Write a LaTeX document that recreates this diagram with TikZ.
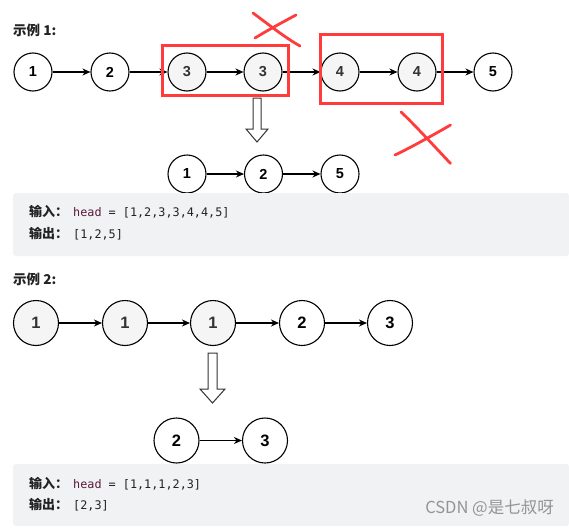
\documentclass[tikz,border=0pt]{standalone}
\usepackage{fontspec}
\setmainfont{Liberation Sans}
\setmonofont{DejaVu Sans Mono}
\newfontfamily\cjk{Noto Sans CJK SC}
\usetikzlibrary{arrows.meta}
\definecolor{boxgray}{HTML}{F1F2F4}
\definecolor{nodegray}{HTML}{F5F5F5}
\definecolor{redmark}{HTML}{FF3B3B}
\definecolor{headcol}{HTML}{5A1A3A}
\definecolor{txt}{HTML}{222222}
\begin{document}
\begin{tikzpicture}[x=1pt,y=-1pt,
  wnode/.style={circle,draw=black,line width=1.1pt,fill=white,inner sep=0pt,
    minimum size=38pt,font=\fontsize{14.5}{14.5}\selectfont\bfseries,text=black},
  gnode/.style={wnode,fill=nodegray,text=black!80},
  bignode/.style={minimum size=45pt,font=\fontsize{16.5}{16.5}\selectfont\bfseries},
  link/.style={line width=1.1pt,-{Stealth[length=8pt,width=7pt,inset=2.5pt]}},
  blockarrow/.style={draw=black!80,line width=1pt,fill=white,line join=miter},
  redbox/.style={draw=redmark,line width=3pt},
  redx/.style={draw=redmark,line width=2.8pt,line cap=round},
  codebox/.style={fill=boxgray,rounded corners=3pt},
  title/.style={anchor=west,inner sep=0pt,text=txt,font=\cjk\bfseries\fontsize{13.5}{13.5}\selectfont},
  lab/.style={anchor=base west,inner sep=0pt,text=txt,font=\cjk\bfseries\fontsize{13}{13}\selectfont},
  code/.style={anchor=base west,inner sep=0pt,text=txt,font=\ttfamily\fontsize{11.8}{11.8}\selectfont}]
\useasboundingbox (0,0) rectangle (569,527);
\fill[white] (0,0) rectangle (569,527);

% ---------- Example 1 ----------
\node[title] (ex1) at (13,30) {示例 1:};

\node[wnode] (a1) at (33,72) {1};
\node[wnode] (a2) at (110,72) {2};
\node[gnode] (a3) at (187,72) {3};
\node[gnode] (a4) at (263,72) {3};
\node[gnode] (a5) at (340,72) {4};
\node[gnode] (a6) at (417,72) {4};
\node[wnode] (a7) at (493,72) {5};
\draw[link] (a1) -- (a2);
\draw[link] (a2) -- (a3);
\draw[link] (a3) -- (a4);
\draw[link] (a4) -- (a5);
\draw[link] (a5) -- (a6);
\draw[link] (a6) -- (a7);

\draw[redbox] (162.5,45.5) rectangle (288.5,95.5);
\draw[redbox] (320.8,34.2) rectangle (442.8,103.8);

\draw[redx] (253,13) .. controls (268,24) and (284,37) .. (300,46);
\draw[redx] (255,38) .. controls (268,30) and (283,22) .. (296,15);
\draw[redx] (401,112) .. controls (412,122) and (436,148) .. (450.5,163.5);
\draw[redx] (395,155) .. controls (410,148) and (435,134) .. (450.5,125);

\coordinate (arr1) at (257,98);
\draw[blockarrow] (arr1) ++(-4,0) -- ++(0,31) -- ++(-7,0) -- ++(11,13) -- ++(11,-13) -- ++(-7,0) -- ++(0,-31) -- cycle;

\node[wnode] (b1) at (187,174) {1};
\node[wnode] (b2) at (263.5,174) {2};
\node[wnode] (b3) at (340,174) {5};
\draw[link] (b1) -- (b2);
\draw[link] (b2) -- (b3);

\fill[codebox] (13,193) rectangle (569,256);
\node[lab] (in1) at (29,216.5) {输入：};
\node[code] (in1c) at (73,216.5) {\textcolor{headcol}{head} = [1,2,3,3,4,4,5]};
\node[lab] (out1) at (29,238.5) {输出：};
\node[code] (out1c) at (73,238.5) {[1,2,5]};

% ---------- Example 2 ----------
\node[title] (ex2) at (13,279) {示例 2:};

\node[gnode,bignode] (c1) at (36,323) {1};
\node[gnode,bignode] (c2) at (125,323) {1};
\node[gnode,bignode] (c3) at (213,323) {1};
\node[wnode,bignode] (c4) at (302,323) {2};
\node[wnode,bignode] (c5) at (390,323) {3};
\draw[link] (c1) -- (c2);
\draw[link] (c2) -- (c3);
\draw[link] (c3) -- (c4);
\draw[link] (c4) -- (c5);

\coordinate (arr2) at (212.5,353);
\draw[blockarrow] (arr2) ++(-4.5,0) -- ++(0,36) -- ++(-8,0) -- ++(12.5,14) -- ++(12.5,-14) -- ++(-8,0) -- ++(0,-36) -- cycle;

\node[wnode,bignode] (d1) at (176.5,440.5) {2};
\node[wnode,bignode] (d2) at (265,440.5) {3};
\draw[link] (d1) -- (d2);

\fill[codebox] (13,464) rectangle (569,526);
\node[lab] (in2) at (29,488.5) {输入：};
\node[code] (in2c) at (73,488.5) {\textcolor{headcol}{head} = [1,1,1,2,3]};
\node[lab] (out2) at (29,509.5) {输出：};
\node[code] (out2c) at (73,509.5) {[2,3]};

\node[anchor=east,inner sep=0pt,text=black!42,font=\cjk\fontsize{16.5}{16.5}\selectfont] (wm) at (554,508) {CSDN @是七叔呀};
\end{tikzpicture}
\end{document}
